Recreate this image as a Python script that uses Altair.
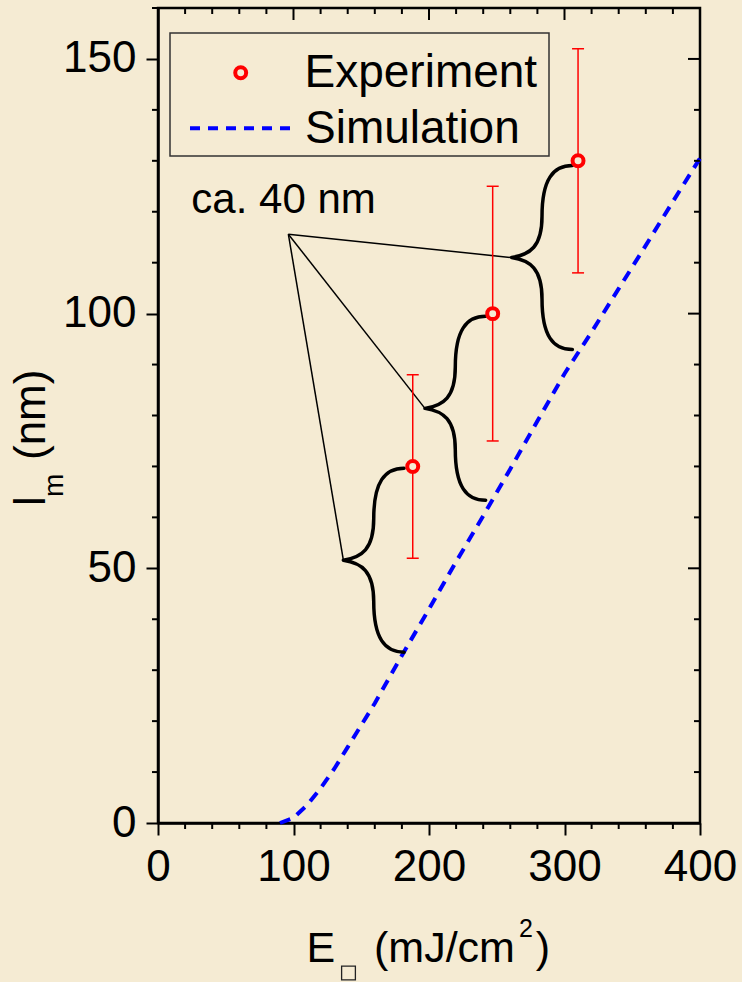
import altair as alt
import pandas as pd

BG = "#F5EBD3"
FONT = "Liberation Sans"
RED = "#FF0000"
BLUE = "#0000FF"

# ---- data -------------------------------------------------------------
exp_E = [188, 247, 310]
exp_l = [70, 100, 130]
exp_lo = [52, 75, 108]
exp_hi = [88, 125, 152]

sim_E = [90, 100, 110, 120, 130, 140, 150, 160, 180, 200, 220, 240, 260, 280,
         300, 320, 340, 360, 380, 400]
sim_l = [0, 1, 3.5, 6.8, 10.6, 14.9, 19.2, 23.5, 32.9, 42.0, 51.3, 60.3, 69.5,
         78.9, 88.2, 96.4, 104.9, 113.4, 122.0, 130.5]

note_text = ["ca. 40 nm"]
note_E = [24.6]
note_l = [119.7]
lead_E = [96.2]
lead_l = [115.6]
brace_E = [136.8, 197.0, 261.0]
brace_l = [51.6, 81.4, 111.0]

legend_labels = ["Experiment", "Simulation"]
x_title_parts = ["E", "(mJ/cm", "2", ")"]
y_title_parts = ["l", "m", "(nm)"]

x_major = [0, 100, 200, 300, 400]
x_minor = [20, 40, 60, 80, 120, 140, 160, 180, 220, 240, 260, 280,
           320, 340, 360, 380]
y_major = [0, 50, 100, 150]
y_minor = [10, 20, 30, 40, 60, 70, 80, 90, 110, 120, 130, 140, 160]

# ---- frames -----------------------------------------------------------
sim_df = pd.DataFrame({"E": sim_E, "l": sim_l})
exp_df = pd.DataFrame({"E": exp_E, "l": exp_l, "lo": exp_lo, "hi": exp_hi})
caps_df = pd.DataFrame({"E": exp_E + exp_E, "l": exp_lo + exp_hi})
note_df = pd.DataFrame({"t": note_text, "E": note_E, "l": note_l})
lead_df = pd.DataFrame({"E": lead_E * len(brace_E), "l": lead_l * len(brace_E),
                        "E1": brace_E, "l1": brace_l})
brace_df = pd.DataFrame({"E": brace_E, "l": brace_l})

W, H = 542, 815
xs = alt.Scale(domain=[0, 400], nice=False, zero=False)
ys = alt.Scale(domain=[0, 160], nice=False, zero=False)

x_axis = alt.Axis(values=x_major, tickSize=12, tickWidth=2, tickColor="black",
                  domainWidth=2.5, domainColor="black", labelFontSize=44,
                  labelFont=FONT, labelColor="black", labelPadding=10,
                  labelFlush=False, labelOverlap=False, grid=False, title=None)
y_axis = alt.Axis(values=y_major, tickSize=12, tickWidth=2, tickColor="black",
                  domainWidth=2.5, domainColor="black", labelFontSize=44,
                  labelFont=FONT, labelColor="black", labelPadding=10,
                  labelOverlap=False, grid=False, title=None)


def X(f="E"):
    return alt.X(f, type="quantitative", scale=xs, axis=x_axis)


def Y(f="l"):
    return alt.Y(f, type="quantitative", scale=ys, axis=y_axis)


BRACE = ("M0.66,-1 C0.45,-1 0.33,-0.85 0.33,-0.45 C0.33,-0.12 0.2,-0.03 0,0 "
         "C0.2,0.03 0.33,0.12 0.33,0.45 C0.33,0.85 0.45,1 0.66,1")

sim = alt.Chart(sim_df).mark_line(color=BLUE, strokeWidth=4, strokeDash=[11, 8]).encode(
    x=X(), y=Y())

leaders = alt.Chart(lead_df).mark_rule(color="black", strokeWidth=1.5).encode(
    x=X(), y=Y(), x2="E1:Q", y2="l1:Q")

braces = alt.Chart(brace_df).mark_point(
    shape=BRACE, size=33856, filled=False, color="black", stroke="black",
    strokeWidth=3.5, opacity=1, strokeCap="round", strokeJoin="round"
).encode(x=X(), y=Y())

errs = alt.Chart(exp_df).mark_rule(color=RED, strokeWidth=1.5).encode(
    x=X(), y=Y("lo"), y2="hi:Q")

caps = alt.Chart(caps_df).mark_tick(orient="horizontal", size=12, thickness=1.5,
                                     color=RED, opacity=1).encode(x=X(), y=Y())

pts = alt.Chart(exp_df).mark_point(shape="circle", filled=True, fill=BG, stroke=RED,
                                   strokeWidth=4, size=120, opacity=1).encode(
    x=X(), y=Y())

note = alt.Chart(note_df).mark_text(font=FONT, fontSize=42, align="left",
                                    baseline="alphabetic", color="black").encode(
    x=X(), y=Y(), text="t:N")

# minor / mirrored ticks
tick_style = dict(color="black", strokeWidth=2)
bx_minor = alt.Chart(pd.DataFrame({"E": x_minor})).mark_rule(**tick_style).encode(
    x=X(), y=alt.value(H), y2=alt.value(H + 6))
ly_minor = alt.Chart(pd.DataFrame({"l": y_minor})).mark_rule(**tick_style).encode(
    y=Y(), x=alt.value(-6), x2=alt.value(0))
tx_major = alt.Chart(pd.DataFrame({"E": x_major})).mark_rule(**tick_style).encode(
    x=X(), y=alt.value(0), y2=alt.value(12))
tx_minor = alt.Chart(pd.DataFrame({"E": x_minor})).mark_rule(**tick_style).encode(
    x=X(), y=alt.value(0), y2=alt.value(6))
ry_major = alt.Chart(pd.DataFrame({"l": y_major})).mark_rule(**tick_style).encode(
    y=Y(), x=alt.value(W), x2=alt.value(W - 12))
ry_minor = alt.Chart(pd.DataFrame({"l": y_minor})).mark_rule(**tick_style).encode(
    y=Y(), x=alt.value(W), x2=alt.value(W - 6))

# legend box
one = pd.DataFrame({"a": [0]})
leg_box = alt.Chart(one).mark_rect(fill=BG, stroke="#333333", strokeWidth=1.5).encode(
    x=alt.value(12), x2=alt.value(391), y=alt.value(25), y2=alt.value(148))
leg_pt = alt.Chart(one).mark_point(shape="circle", filled=True, fill=BG, stroke=RED,
                                   strokeWidth=4, size=120, opacity=1).encode(
    x=alt.value(82.7), y=alt.value(64.7))
leg_line = alt.Chart(one).mark_rule(color=BLUE, strokeWidth=4, strokeDash=[10, 8]).encode(
    x=alt.value(32), x2=alt.value(134), y=alt.value(120.3))
leg_t1 = alt.Chart(pd.DataFrame({"t": [legend_labels[0]]})).mark_text(
    font=FONT, fontSize=46, align="left", baseline="alphabetic", color="black").encode(
    x=alt.value(146.5), y=alt.value(79), text="t:N")
leg_t2 = alt.Chart(pd.DataFrame({"t": [legend_labels[1]]})).mark_text(
    font=FONT, fontSize=46, align="left", baseline="alphabetic", color="black").encode(
    x=alt.value(147), y=alt.value(135), text="t:N")


def txt(s, x, y, size, angle=0):
    return alt.Chart(pd.DataFrame({"t": [s]})).mark_text(
        font=FONT, fontSize=size, align="left", baseline="alphabetic",
        color="black", angle=angle).encode(x=alt.value(x), y=alt.value(y), text="t:N")


xt_E = txt(x_title_parts[0], 148.6, 954, 43)
xt_box = alt.Chart(one).mark_point(shape="square", filled=False, stroke="#222222",
                                   color="#222222", strokeWidth=1.3, size=190,
                                   opacity=1).encode(x=alt.value(190.5), y=alt.value(965))
xt_unit = txt(x_title_parts[1], 216, 954, 43)
xt_sup = txt(x_title_parts[2], 361, 929, 25)
xt_close = txt(x_title_parts[3], 377.7, 954, 43)

yt_l = txt(y_title_parts[0], -113, 498, 44, 270)
yt_m = txt(y_title_parts[1], -95, 489, 28, 270)
yt_nm = txt(y_title_parts[2], -113, 452, 44, 270)

chart = alt.layer(
    sim, leaders, braces, errs, caps, pts, note,
    bx_minor, ly_minor, tx_major, tx_minor, ry_major, ry_minor,
    leg_box, leg_pt, leg_line, leg_t1, leg_t2,
    xt_E, xt_box, xt_unit, xt_sup, xt_close, yt_l, yt_m, yt_nm,
).properties(
    width=W, height=H,
    autosize=alt.AutoSizeParams(type="none"),
    padding={"left": 158, "top": 8, "right": 42, "bottom": 159},
    background=BG,
).configure_view(stroke="black", strokeWidth=2.5)

chart.save("out.html", embed_options={"renderer": "svg", "actions": False})
